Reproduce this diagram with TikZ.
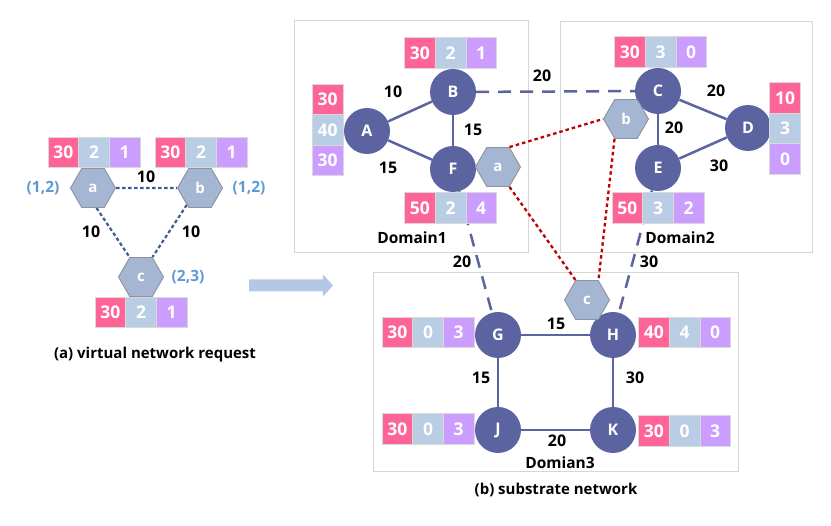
\documentclass[tikz,border=0pt]{standalone}
\usepackage{fontspec}
\setmainfont{Open Sans}
\usetikzlibrary{shapes.geometric}
\definecolor{pk}{HTML}{FF6497}
\definecolor{lb}{HTML}{B9CDE5}
\definecolor{pu}{HTML}{CB9DFF}
\definecolor{nodeblue}{HTML}{5B64A0}
\definecolor{hexfill}{HTML}{A5B6D3}
\definecolor{hexborder}{HTML}{8C939E}
\definecolor{coordblue}{HTML}{5B9BD5}
\definecolor{vdash}{HTML}{3F5A94}
\definecolor{mapred}{HTML}{C00000}
\definecolor{arrowblue}{HTML}{B4C7E7}
\definecolor{domgray}{HTML}{D6D6D6}
\pgfdeclarelayer{boxes}
\pgfdeclarelayer{edges}
\pgfsetlayers{boxes,edges,main}
\tikzset{
  cell/.style={minimum width=30.7pt, minimum height=30.5pt, inner sep=0pt, text=white,
    draw=white!85!black, line width=0.5pt, font=\bfseries\fontsize{17.5}{17.5}\selectfont},
  pkc/.style={cell, fill=pk},
  lbcell/.style={cell, fill=lb},
  puc/.style={cell, fill=pu},
  snode/.style={circle, fill=nodeblue, minimum size=46pt, inner sep=0pt, text=white,
    font=\bfseries\fontsize{16}{16}\selectfont},
  vhex/.style={regular polygon, regular polygon sides=6, minimum size=45pt, inner sep=0pt,
    fill=hexfill, draw=hexborder, line width=0.9pt, text=white,
    font=\bfseries\fontsize{15}{15}\selectfont},
  lbl/.style={font=\bfseries\fontsize{16}{16}\selectfont, text=black, inner sep=1pt},
  crd/.style={font=\bfseries\fontsize{15.5}{15.5}\selectfont, text=coordblue, inner sep=1pt},
  captext/.style={font=\bfseries\fontsize{15}{15}\selectfont, text=black, inner sep=1pt},
  domlabel/.style={font=\bfseries\fontsize{15.5}{15.5}\selectfont, text=black, inner sep=1pt},
  dombox/.style={draw=domgray, line width=1pt},
  sedge/.style={draw=nodeblue, line width=2.5pt},
  iedge/.style={draw=nodeblue, line width=2.5pt, dash pattern=on 13pt off 9pt},
  vedge/.style={draw=vdash, line width=2.2pt, dash pattern=on 3.5pt off 2.5pt},
  medge/.style={draw=mapred, line width=2.3pt, dash pattern=on 3.5pt off 3pt},
}
\newcommand\htrip[6]{%
  \node[pkc] (#1-1) at (#2-30.7,#3) {#4};
  \node[lbcell] (#1-2) at (#2,#3) {#5};
  \node[puc] (#1-3) at (#2+30.7,#3) {#6};}
\newcommand\vtrip[6]{%
  \node[pkc] (#1-1) at (#2,#3-30.5) {#4};
  \node[lbcell] (#1-2) at (#2,#3) {#5};
  \node[puc] (#1-3) at (#2,#3+30.5) {#6};}
\begin{document}
\begin{tikzpicture}[x=1pt,y=-1pt]
\useasboundingbox (0,0) rectangle (831,526);

% ---------- (a) virtual network request ----------
\node[vhex] (va) at (93,188) {a};
\node[vhex] (vb) at (200,188) {b};
\node[vhex] (vc) at (141,277) {c};
\htrip{ta}{94}{152.5}{30}{2}{1}
\htrip{tb}{201}{152.5}{30}{2}{1}
\htrip{tc}{141}{312.5}{30}{2}{1}
\node[crd] (ca) at (43,188) {(1,2)};
\node[crd] (cb) at (249,188) {(1,2)};
\node[crd] (cc) at (188,277) {(2,3)};
\begin{pgfonlayer}{edges}
\draw[vedge] (va) -- (vb);
\draw[vedge] (va.-80) -- (vc.120);
\draw[vedge] (vb.232) -- (vc.60);
\end{pgfonlayer}
\node[lbl] (lvab) at (146,177) {10};
\node[lbl] (lvac) at (91,232) {10};
\node[lbl] (lvbc) at (191,232) {10};
\node[captext] (capa) at (155,355) {(a) virtual network request};

% ---------- arrow ----------
\fill[arrowblue] (249,279.5) -- (323,279.5) -- (323,274.5) -- (333,285.5)
  -- (323,296.5) -- (323,291.5) -- (249,291.5) -- cycle;

% ---------- domain boxes ----------
\begin{pgfonlayer}{boxes}
\draw[dombox] (294,21) rectangle (528,253);
\draw[dombox] (560,22) rectangle (812,253);
\draw[dombox] (373,273) rectangle (738,472);
\end{pgfonlayer}

% ---------- substrate nodes ----------
\node[snode] (A) at (367,131) {A};
\node[snode] (B) at (453,92) {B};
\node[snode] (F) at (453,169) {F};
\node[snode] (C) at (658,91) {C};
\node[snode] (D) at (748,128) {D};
\node[snode] (E) at (658,168) {E};
\node[snode] (G) at (498,335) {G};
\node[snode] (H) at (613,335) {H};
\node[snode] (J) at (498,430) {J};
\node[snode] (K) at (613,430) {K};

\node[vhex] (sa) at (498,167) {a};
\node[vhex] (sb) at (626,119) {b};
\node[vhex] (sc) at (587,300) {c};

\htrip{tB}{450.5}{53}{30}{2}{1}
\vtrip{tA}{327.5}{130}{30}{40}{30}
\htrip{tF}{450.5}{208}{50}{2}{4}
\htrip{tC}{660.5}{52}{30}{3}{0}
\vtrip{tD}{785}{128.5}{10}{3}{0}
\htrip{tE}{658}{208}{50}{3}{2}
\htrip{tG}{428}{332.5}{30}{0}{3}
\htrip{tH}{684.5}{332.5}{40}{4}{0}
\htrip{tJ}{428}{429}{30}{0}{3}
\htrip{tK}{684.5}{431}{30}{0}{3}

\begin{pgfonlayer}{edges}
\draw[sedge] (A) -- (B);
\draw[sedge] (A) -- (F);
\draw[sedge] (B) -- (F);
\draw[sedge] (C) -- (D);
\draw[sedge] (C) -- (E);
\draw[sedge] (D) -- (E);
\draw[sedge] (G) -- (H);
\draw[sedge] (G) -- (J);
\draw[sedge] (H) -- (K);
\draw[sedge] (J) -- (K);
\draw[iedge] (B) -- (C);
\draw[iedge] (F) -- (G);
\draw[iedge] (E) -- (H);
\end{pgfonlayer}
\draw[medge] (sa.60) -- (sb.180);
\draw[medge] (sa.300) -- (sc.120);
\draw[medge] (sb.240) -- (sc.60);

% edge labels
\node[lbl] (lAB) at (393,92) {10};
\node[lbl] (lAF) at (388,168) {15};
\node[lbl] (lBF) at (473,130) {15};
\node[lbl] (lBC) at (542,76) {20};
\node[lbl] (lCD) at (716,91) {20};
\node[lbl] (lCE) at (674,128) {20};
\node[lbl] (lDE) at (719,166) {30};
\node[lbl] (lFG) at (462,262) {20};
\node[lbl] (lEH) at (649,262) {30};
\node[lbl] (lGH) at (556,324) {15};
\node[lbl] (lGJ) at (481,378) {15};
\node[lbl] (lHK) at (635,378) {30};
\node[lbl] (lJK) at (557,441) {20};

\node[domlabel] (d1) at (412,238) {Domain1};
\node[domlabel] (d2) at (680,238) {Domain2};
\node[domlabel] (d3) at (560,463) {Domian3};
\node[captext] (capb) at (556,490) {(b) substrate network};
\end{tikzpicture}
\end{document}
